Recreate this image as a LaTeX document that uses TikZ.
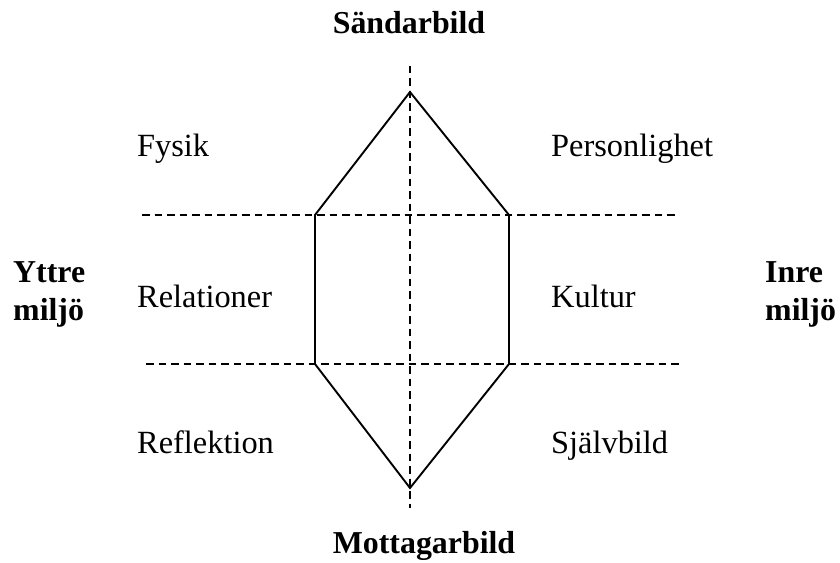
\documentclass[tikz,border=0pt]{standalone}
\usepackage{fontspec}
\setmainfont{Liberation Serif}
\begin{document}
\begin{tikzpicture}[x=1bp,y=-1bp,
  axisline/.style={line width=1.7bp,dash pattern=on 7.5bp off 5bp},
  solidline/.style={line width=1.9bp,line join=miter},
  lbl/.style={anchor=base west,inner sep=0pt,font=\fontsize{32.5}{38}\selectfont},
  blbl/.style={inner sep=0pt,font=\fontsize{32}{38}\selectfont\bfseries,align=left}]
\useasboundingbox (0,0) rectangle (840,563);
% dashed axes
\coordinate (vt) at (410,66);
\coordinate (vb) at (410,508);
\coordinate (h1l) at (142,215);
\coordinate (h1r) at (678,215);
\coordinate (h2l) at (146,364);
\coordinate (h2r) at (680,364);
\draw[axisline] (vt) -- (vb);
\draw[axisline] (h1l) -- (h1r);
\draw[axisline] (h2l) -- (h2r);
% hexagon
\coordinate (top) at (410,92);
\coordinate (ul) at (315,215);
\coordinate (ll) at (315,364);
\coordinate (bot) at (410,488);
\coordinate (lr) at (509,364);
\coordinate (ur) at (509,215);
\draw[solidline] (top) -- (ul) -- (ll) -- (bot) -- (lr) -- (ur) -- cycle;
% labels
\node[blbl,anchor=base] (s) at (409,34) {Sändarbild};
\node[blbl,anchor=base] (m) at (424,553) {Mottagarbild};
\node[blbl,anchor=base west] (y) at (13,320) {Yttre\\miljö};
\node[blbl,anchor=base west] (i) at (765,320) {Inre\\miljö};
\node[lbl] (f) at (137,157) {Fysik};
\node[lbl] (p) at (551,157) {Personlighet};
\node[lbl] (r) at (137,307) {Relationer};
\node[lbl] (k) at (551,307) {Kultur};
\node[lbl] (re) at (137,453) {Reflektion};
\node[lbl] (sj) at (551,453) {Självbild};
\end{tikzpicture}
\end{document}
